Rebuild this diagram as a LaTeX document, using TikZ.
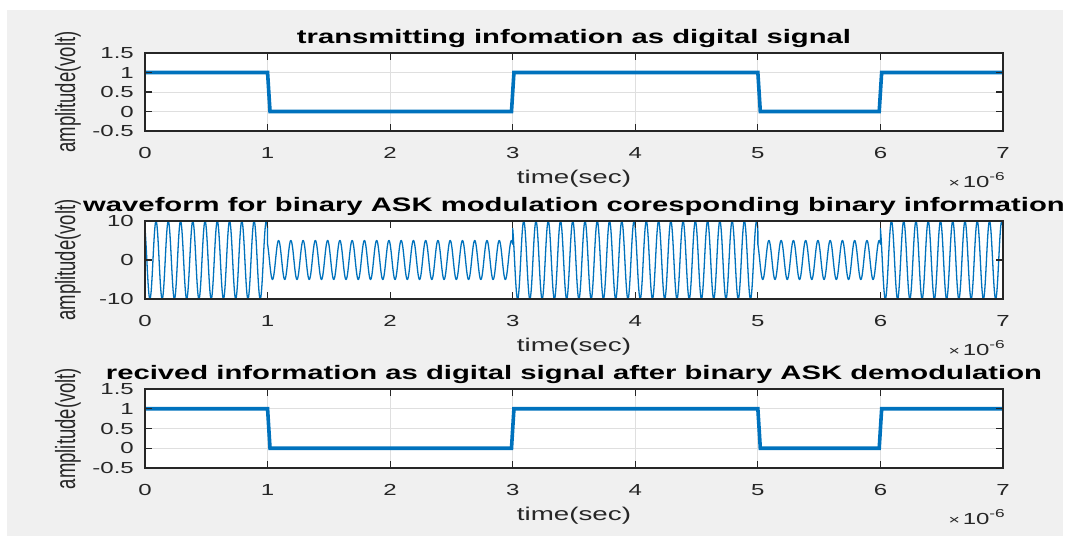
\documentclass[tikz,border=0pt]{standalone}
\usepackage{fontspec}
\setmainfont{Liberation Sans}[FakeStretch=1.5]
\newfontfamily\vfont{Liberation Sans}[FakeStretch=0.6667]
\definecolor{mblue}{RGB}{0,114,189}
\definecolor{figbg}{RGB}{240,240,240}
\definecolor{axc}{RGB}{38,38,38}
\definecolor{gridc}{RGB}{223,223,223}
\tikzset{
 frame/.style={draw=axc, line width=1.2pt},
 tickmark/.style={draw=axc, line width=1.1pt},
 gridline/.style={draw=gridc, line width=0.9pt},
 sig/.style={draw=mblue, line width=3.6pt},
 wave/.style={draw=mblue, line width=1.3pt, line join=round},
 ticklab/.style={inner sep=0pt, text=axc, font=\fontsize{16}{16}\selectfont},
 axlab/.style={inner sep=0pt, text=axc, font=\fontsize{18.5}{18.5}\selectfont},
 ylab/.style={inner sep=0pt, text=axc, rotate=90, anchor=base, font=\vfont\fontsize{27.75}{27.75}\selectfont},
 ttl/.style={inner sep=0pt, text=black, anchor=base, font=\bfseries\fontsize{19.5}{19.5}\selectfont},
}
\newcommand\xdecor[3]{% #1 prefix, #2 bottom value, #3 top value
  \foreach \t in {1,...,6} {\draw[tickmark] (\t,#2) -- ++(0pt,7pt) (\t,#3) -- ++(0pt,-7pt);}
  \foreach \t in {0,...,7} {\node[ticklab, anchor=base] (#1x\t) at ([yshift=-27pt]\t,#2) {\t};}
  \node[axlab, anchor=base] (#1xl) at ([yshift=-52pt]3.5,#2) {time(sec)};
  \node[ticklab, anchor=base east] (#1ex) at ([xshift=2pt,yshift=-56pt]7,#2)
    {{\fontsize{13}{13}\selectfont ×}\,10\raisebox{7pt}{\fontsize{11.5}{11.5}\selectfont -6}};
}
\newcommand\digplot[4]{% #1 prefix, #2 zero y (px), #3 px per unit, #4 title
 \begin{scope}[shift={(145,#2)}, x=122.571pt, y=#3pt]
  \fill[white] (0,-0.5) rectangle (7,1.5);
  \foreach \t in {1,...,6} {\draw[gridline] (\t,-0.5) -- (\t,1.5);}
  \foreach \v in {0,0.5,1} {\draw[gridline] (0,\v) -- (7,\v);}
  \draw[sig] (0,1) -- (1,1) -- (1.02,0) -- (2.99,0) -- (3.01,1) -- (5,1) -- (5.02,0) -- (5.99,0) -- (6.01,1) -- (7,1);
  \foreach \v in {-0.5,0,0.5,1,1.5} {\draw[tickmark] (0,\v) -- ++(7pt,0pt) (7,\v) -- ++(-7pt,0pt);}
  \draw[frame] (0,-0.5) rectangle (7,1.5);
  \xdecor{#1}{-0.5}{1.5}
  \foreach \v/\l [count=\i] in {-0.5/-0.5,0/0,0.5/0.5,1/1,1.5/1.5}
    {\node[ticklab, anchor=east] (#1y\i) at ([xshift=-11pt]0,\v) {\l};}
  \node[ylab] (#1yl) at (-0.5711,0.5) {amplitude(volt)};
  \node[ttl] (#1tt) at ([yshift=10pt]3.5,1.5) {#4};
 \end{scope}}
\begin{document}
\begin{tikzpicture}[x=1pt,y=-1pt]
\useasboundingbox (0,0) rectangle (1065,536);
\fill[white] (0,0) rectangle (1065,536);
\fill[figbg] (7,10) rectangle (1063,536);
% plot 1
\digplot{pa}{111.5}{39}{transmitting infomation as digital signal}
% plot 2
\begin{scope}[shift={(145,260)}, x=122.571pt, y=3.9pt]
  \fill[white] (0,-10) rectangle (7,10);
  \begin{scope}
  \clip (0,-10.3) rectangle (7,10.3);
  \draw[wave] plot[domain=0:1,samples=401] (\x,{10*cos(3600*\x+36)})
    -- plot[domain=1:2,samples=401] (\x,{5*cos(3600*(\x-1)+36)})
    -- plot[domain=2:3,samples=401] (\x,{5*cos(3600*(\x-2)+36)})
    -- plot[domain=3:4,samples=401] (\x,{10*cos(3600*(\x-3)+36)})
    -- plot[domain=4:5,samples=401] (\x,{10*cos(3600*(\x-4)+36)})
    -- plot[domain=5:6,samples=401] (\x,{5*cos(3600*(\x-5)+36)})
    -- plot[domain=6:7,samples=401] (\x,{10*cos(3600*(\x-6)+36)});
  \end{scope}
  \foreach \v in {-10,0,10} {\draw[tickmark] (0,\v) -- ++(7pt,0pt) (7,\v) -- ++(-7pt,0pt);}
  \draw[frame] (0,-10) rectangle (7,10);
  \xdecor{pb}{-10}{10}
  \foreach \v [count=\i] in {-10,0,10}
    {\node[ticklab, anchor=east] (pby\i) at ([xshift=-11pt]0,\v) {\v};}
  \node[ylab] (pbyl) at (-0.5711,0) {amplitude(volt)};
  \node[ttl] (pbtt) at ([yshift=10pt]3.5,10) {waveform for binary ASK modulation coresponding binary information};
\end{scope}
% plot 3
\digplot{pc}{448.25}{39.5}{recived information as digital signal after binary ASK demodulation}
\end{tikzpicture}
\end{document}
